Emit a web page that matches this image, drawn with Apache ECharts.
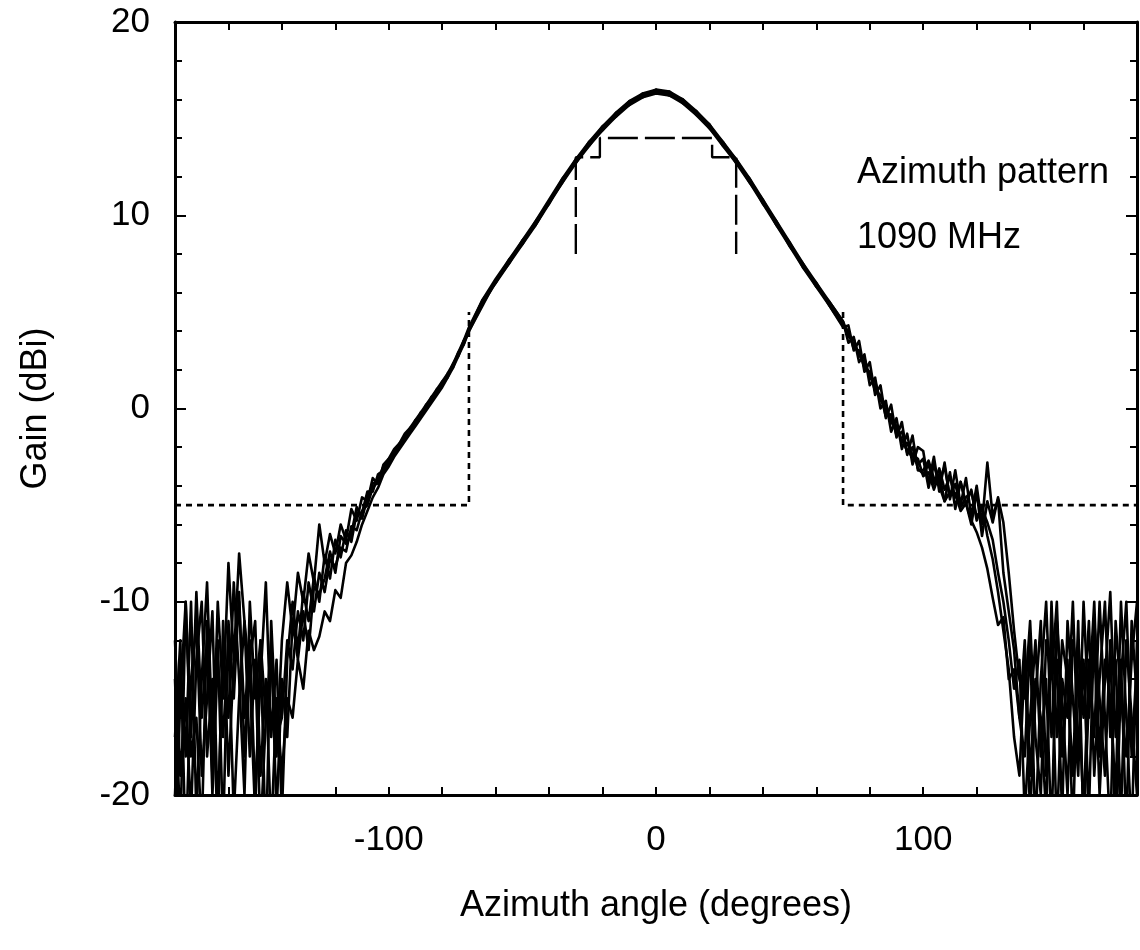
<!DOCTYPE html>
<html>
<head>
<meta charset="utf-8">
<title>Azimuth pattern 1090 MHz</title>
<script src="https://cdn.jsdelivr.net/npm/echarts@6/dist/echarts.min.js"></script>
<style>
  html, body { margin: 0; padding: 0; background: #fff; }
  #chart { width: 1140px; height: 950px; }
</style>
</head>
<body>
<div id="chart"></div>
<script>
// azimuth angle (degrees), shared by every measured trace
const angles = [
  -180, -178, -176, -174, -172, -170, -168, -166, -164, -162, -160, -158, -156, -154, -152, -150, -148, -146, -144, -142,
  -140, -138, -136, -134, -132, -130, -128, -126, -124, -122, -120, -118, -116, -114, -112, -110, -108, -106, -104, -102, -100,
  -98, -96, -94, -92, -90, -88, -86, -84, -82, -80, -78, -76, -74, -72, -70,
  -65, -60, -55, -50, -45, -40, -35, -30, -25, -20, -15, -10, -5, 0, 5, 10, 15, 20, 25, 30, 35, 40, 45, 50, 55, 60, 65,
  70, 72, 74, 76, 78, 80, 82, 84, 86, 88, 90, 92, 94, 96, 98,
  100, 102, 104, 106, 108, 110, 112, 114, 116, 118, 120, 122, 124, 126, 128, 130, 132, 134, 136,
  138, 140, 142, 144, 146, 148, 150, 152, 154, 156, 158, 160, 162, 164, 166, 168, 170, 172, 174, 176, 178, 180
];

// gain (dBi) of the measured traces
const gainA = [
  -14, -22, -10, -17, -9.5, -16, -12, -19, -10, -15, -8, -13, -7.5, -11, -14, -21, -12, -16, -13, -18,
  -12, -9, -11.5, -8.5, -10, -7.5, -9, -6, -8, -6.5, -7.5, -6, -6.8, -5.2, -5.8, -4.6, -4.8, -3.6, -3.9, -2.9, -2.6,
  -2.1, -1.8, -1.3, -1.0, -0.6, -0.2, 0.2, 0.6, 1.0, 1.4, 1.8, 2.3, 2.9, 3.5, 4.2,
  5.6, 6.7, 7.7, 8.7, 9.7, 10.8, 11.9, 12.9, 13.8, 14.6, 15.3, 15.9, 16.3, 16.5, 16.4, 16.0, 15.4, 14.7, 13.8, 12.9, 11.9, 10.8, 9.7, 8.6, 7.5, 6.5, 5.5,
  4.5, 3.4, 3.7, 2.4, 2.8, 1.2, 1.6, 0.0, 0.4, -1.2, -0.5, -2.1, -1.3, -2.9, -2.0,
  -2.2, -3.9, -2.5, -4.3, -2.8, -4.7, -3.2, -5.0, -3.6, -5.6, -4.0, -6.0, -2.8, -5.6, -4.7, -8.5, -10.5, -12.5, -16,
  -18, -12, -22, -14, -10, -17, -13, -21, -11, -15, -19, -10, -16, -12, -20, -14, -9.5, -17, -13, -22, -11, -15
];
const gainB = [
  -20, -13, -18, -10, -21, -14, -9, -17, -12, -22, -11, -15, -9.5, -18, -13, -11, -19, -14, -22, -15,
  -19, -15, -16, -13, -14.5, -11.5, -12.5, -11.8, -10.5, -11, -9.4, -9.8, -8, -7.6, -6.9, -6, -5.3, -4.6, -4.1, -3.4, -3.0,
  -2.5, -2.1, -1.7, -1.3, -0.9, -0.5, -0.1, 0.3, 0.7, 1.1, 1.6, 2.1, 2.7, 3.3, 4.0,
  5.4, 6.5, 7.5, 8.5, 9.5, 10.6, 11.7, 12.7, 13.6, 14.4, 15.1, 15.7, 16.1, 16.3, 16.2, 15.8, 15.2, 14.5, 13.6, 12.7, 11.7, 10.6, 9.5, 8.4, 7.3, 6.3, 5.3,
  4.3, 4.0, 3.1, 3.0, 2.1, 1.9, 0.9, 0.7, -0.4, -0.3, -1.4, -1.2, -2.3, -2.0, -3.1,
  -3.4, -2.9, -3.9, -3.1, -4.2, -3.5, -4.6, -3.8, -5.0, -4.2, -5.8, -5.0, -6.6, -7.8, -9.5, -11.5, -13.5, -17, -19,
  -13, -21, -15, -11, -19, -12, -22, -14, -16, -10, -18, -13, -21, -11, -15, -19, -12, -23, -14, -10, -18, -13
];
const gainC = [
  -17, -12, -23, -14, -11, -19, -15, -10.5, -21, -13, -16, -9, -14, -20, -10, -15, -12, -23, -11, -17,
  -16, -12, -13.5, -10.5, -12, -9, -10.5, -8.5, -9.5, -7.8, -8.2, -7.2, -7.4, -6.1, -6.3, -5.3, -5.0, -4.1, -3.8, -3.3, -2.8,
  -2.2, -2.0, -1.4, -1.2, -0.6, -0.4, 0.2, 0.4, 1.0, 1.2, 1.8, 2.1, 2.9, 3.3, 4.1,
  5.5, 6.6, 7.6, 8.6, 9.6, 10.7, 11.8, 12.8, 13.7, 14.5, 15.2, 15.8, 16.2, 16.4, 16.3, 15.9, 15.3, 14.6, 13.7, 12.8, 11.8, 10.7, 9.6, 8.5, 7.4, 6.4, 5.4,
  4.4, 3.7, 3.6, 2.7, 2.6, 1.6, 1.4, 0.4, 0.2, -0.7, -1.1, -1.6, -2.2, -2.5, -2.9,
  -2.6, -4.1, -2.9, -4.0, -4.8, -3.3, -5.2, -3.8, -4.9, -6.0, -4.3, -6.6, -4.8, -5.9, -4.6, -5.9, -8.5, -11.5, -14,
  -15, -11, -17, -20, -12, -14, -10, -18, -13, -22, -12, -16, -11, -19, -14, -10, -17, -13, -21, -12, -16, -20
];
const gainD = [
  -12, -19, -15, -21, -13, -10, -18, -14, -22, -11, -19, -13, -10, -16, -12, -20, -14, -9, -17, -13,
  -21, -13, -10, -12.5, -9.5, -11, -8.7, -10, -7.6, -8.8, -6.8, -7.7, -6.3, -6.9, -5.4, -5.4, -4.3, -4.3, -3.4, -3.2, -2.6,
  -2.4, -1.8, -1.6, -1.0, -0.8, -0.2, 0.0, 0.6, 0.8, 1.4, 1.6, 2.3, 2.7, 3.5, 4.0,
  5.3, 6.6, 7.5, 8.7, 9.5, 10.7, 11.7, 12.9, 13.6, 14.6, 15.1, 15.9, 16.1, 16.5, 16.2, 16.0, 15.2, 14.7, 13.6, 12.9, 11.7, 10.8, 9.5, 8.6, 7.3, 6.5, 5.3,
  4.2, 4.3, 3.0, 3.5, 1.9, 2.4, 0.7, 1.2, -0.5, 0.2, -1.5, -0.7, -2.4, -1.4, -3.2,
  -3.2, -2.7, -3.6, -3.8, -3.0, -4.6, -3.9, -5.1, -4.6, -4.3, -5.6, -5.2, -5.9, -6.8, -8.5, -10, -12, -14.5, -13,
  -21, -16, -12, -18, -14, -22, -11, -15, -20, -12, -14, -21, -13, -17, -10, -16, -22, -11, -15, -18, -13, -10
];
const gainE = [
  -23, -15, -10, -18, -16, -22, -11, -20, -13, -17, -12, -21, -15, -11, -18, -13, -22, -16, -12, -21,
  -14, -17, -11, -13, -10.5, -12.5, -9.2, -9.6, -8.8, -7.4, -8.5, -6.6, -7, -6.5, -5.1, -5.7, -4.6, -3.9, -3.7, -3.0, -2.9,
  -2.3, -1.9, -1.5, -1.1, -0.7, -0.3, 0.1, 0.5, 0.9, 1.3, 1.7, 2.2, 2.8, 3.4, 4.1,
  5.6, 6.5, 7.7, 8.5, 9.7, 10.6, 11.9, 12.7, 13.8, 14.4, 15.3, 15.7, 16.3, 16.3, 16.4, 15.8, 15.4, 14.5, 13.8, 12.7, 11.9, 10.6, 9.7, 8.4, 7.5, 6.3, 5.5,
  4.5, 3.8, 3.3, 2.9, 2.3, 1.7, 1.1, 0.5, -0.1, -0.6, -0.9, -1.7, -1.8, -2.4, -2.6,
  -3.5, -3.3, -4.2, -3.4, -4.8, -4.3, -4.4, -5.3, -4.9, -5.8, -6.4, -7.2, -8.3, -9.8, -11.2, -10.8, -14, -13.5, -16,
  -12, -19, -14, -16, -21, -10, -17, -12, -14, -19, -11, -22, -15, -10, -18, -13, -15, -20, -10, -16, -22, -12
];
const traces = [gainA, gainB, gainC, gainD, gainE];

// specification masks [angle, gain]
const sideMaskLeft = [[-180, -5], [-70, -5], [-70, 5]];
const sideMaskRight = [[70, 5], [70, -5], [180, -5]];
const beamMask = [[-30, 8], [-30, 13], [-21, 13], [-21, 14], [21, 14], [21, 13], [30, 13], [30, 8]];

const xTickLabels = [-100, 0, 100];
const yTickLabels = [-20, -10, 0, 10, 20];

const FONT = 'Liberation Sans, Arial, Helvetica, sans-serif';

const chart = echarts.init(document.getElementById('chart'));

function xAxisBase(pos) {
  return {
    type: 'value', position: pos, min: -180, max: 180, interval: 20,
    axisLine: { show: true, onZero: false, lineStyle: { color: '#000', width: 3 } },
    axisTick: { show: true, inside: true, length: 8, lineStyle: { color: '#000', width: 2 } },
    splitLine: { show: false }
  };
}
function yAxisBase(pos) {
  return {
    type: 'value', position: pos, min: -20, max: 20, interval: 10,
    axisLine: { show: true, onZero: false, lineStyle: { color: '#000', width: 3 } },
    axisTick: { show: true, inside: true, length: 11, lineStyle: { color: '#000', width: 2 } },
    minorTick: { show: true, splitNumber: 5, length: 7, lineStyle: { color: '#000', width: 2 } },
    splitLine: { show: false }
  };
}

const traceSeries = traces.map(function (g, k) {
  return {
    name: 'trace' + (k + 1),
    type: 'line',
    data: angles.map(function (a, i) { return [a, g[i]]; }),
    showSymbol: false,
    lineStyle: { color: '#000', width: 2.6, join: 'round' },
    clip: true,
    z: 3
  };
});

const option = {
  animation: false,
  backgroundColor: '#fff',
  grid: { left: 175, top: 22, width: 968, height: 773 },
  xAxis: [
    Object.assign(xAxisBase('bottom'), {
      name: 'Azimuth angle (degrees)',
      nameLocation: 'middle',
      nameGap: 93,
      nameTextStyle: { fontFamily: FONT, fontSize: 36, color: '#000' },
      axisLabel: {
        fontFamily: FONT, fontSize: 35, color: '#000', margin: 28,
        formatter: function (v) { return xTickLabels.indexOf(v) >= 0 ? String(v) : ''; }
      }
    }),
    Object.assign(xAxisBase('top'), { axisLabel: { show: false } })
  ],
  yAxis: [
    Object.assign(yAxisBase('left'), {
      name: 'Gain (dBi)',
      nameLocation: 'middle',
      nameGap: 121,
      nameTextStyle: { fontFamily: FONT, fontSize: 36, color: '#000' },
      axisLabel: {
        fontFamily: FONT, fontSize: 35, color: '#000', margin: 25,
        formatter: function (v) { return yTickLabels.indexOf(v) >= 0 ? String(v) : ''; }
      }
    }),
    Object.assign(yAxisBase('right'), { axisLabel: { show: false } })
  ],
  graphic: [
    { type: 'text', left: 857, top: 155, style: { text: 'Azimuth pattern', font: '36px ' + FONT, fill: '#000' } },
    { type: 'text', left: 857, top: 220, style: { text: '1090 MHz', font: '36px ' + FONT, fill: '#000' } }
  ],
  series: traceSeries.concat([
    {
      name: 'side mask left', type: 'line', data: sideMaskLeft, showSymbol: false,
      lineStyle: { color: '#000', width: 2.6, type: [6, 5] }, z: 2
    },
    {
      name: 'side mask right', type: 'line', data: sideMaskRight, showSymbol: false,
      lineStyle: { color: '#000', width: 2.6, type: [6, 5] }, z: 2
    },
    {
      name: 'beam mask', type: 'line', data: beamMask, showSymbol: false,
      lineStyle: { color: '#000', width: 2.4, type: [30, 7] }, z: 2
    }
  ])
};

chart.setOption(option);
</script>
</body>
</html>
